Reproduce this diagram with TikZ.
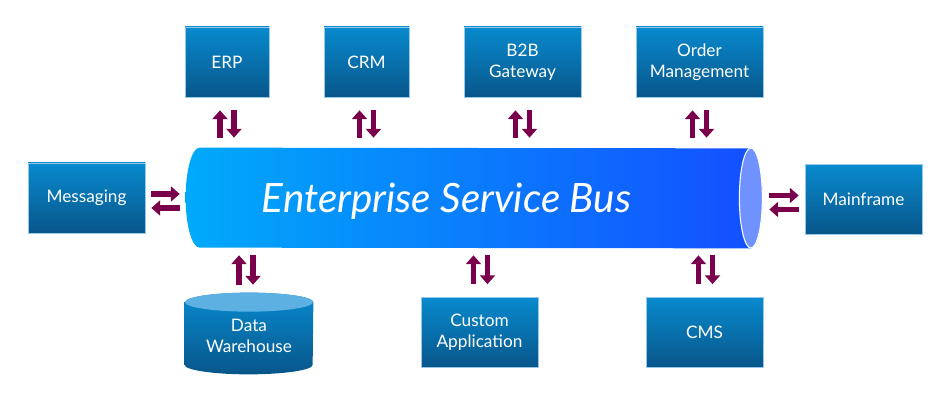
\documentclass[tikz,border=0pt]{standalone}
\usepackage{fontspec}
\setmainfont{Lato}
\usepackage{tikz}
\usetikzlibrary{arrows.meta,calc,positioning}
\definecolor{boxtop}{RGB}{8,138,206}
\definecolor{boxbot}{RGB}{8,86,138}
\definecolor{boxedge}{RGB}{150,200,235}
\definecolor{dwtop}{RGB}{92,176,226}
\definecolor{buscyan}{RGB}{0,170,250}
\definecolor{busblue}{RGB}{20,78,255}
\definecolor{busend}{RGB}{112,146,255}
\definecolor{flowred}{RGB}{122,0,76}

\begin{document}
\begin{tikzpicture}[
  font=\fontsize{9.8}{12}\selectfont,
  sysbox/.style={draw=boxedge, line width=0.4pt, top color=boxtop, bottom color=boxbot, text=white, align=center, minimum height=1.4cm, inner sep=0pt},
  flow/.style={draw=flowred, line width=3.4pt, -{Triangle[length=5pt, width=8.5pt]}},
  busarea/.style={minimum width=11.52cm, minimum height=2cm, inner sep=0pt}
]
\useasboundingbox (0,0) rectangle (19,8);

% systems around the bus
\node[sysbox, minimum width=1.68cm] (erp) at (4.54,6.76) {ERP};
\node[sysbox, minimum width=1.70cm] (crm) at (7.33,6.76) {CRM};
\node[sysbox, minimum width=2.34cm] (b2b) at (10.45,6.76) {B2B\\Gateway};
\node[sysbox, minimum width=2.54cm] (om) at (13.99,6.76) {Order\\Management};
\node[sysbox, minimum width=2.34cm] (msg) at (1.73,4.04) {Messaging};
\node[sysbox, minimum width=2.34cm] (mf) at (17.27,4.01) {Mainframe};
\node[sysbox, minimum width=2.34cm] (app) at (9.59,1.35) {Custom\\Application};
\node[sysbox, minimum width=2.34cm] (cms) at (14.09,1.35) {CMS};

% data warehouse cylinder
\node[text=white, align=center, minimum width=2.56cm, minimum height=1.62cm, inner sep=0pt] (dw) at (4.98,1.33) {};
\shade[top color=boxtop, bottom color=boxbot]
  ([yshift=-0.19cm]dw.north west) -- ([yshift=0.19cm]dw.south west)
  arc[start angle=180, end angle=360, x radius=1.28cm, y radius=0.19cm]
  -- ([yshift=-0.19cm]dw.north east)
  arc[start angle=0, end angle=180, x radius=1.28cm, y radius=0.19cm] -- cycle;
\fill[dwtop] ([yshift=-0.19cm]dw.north) ellipse[x radius=1.28cm, y radius=0.19cm];
\node[text=white, align=center] at ([yshift=-0.05cm]dw.center) {Data\\Warehouse};

% the bus
\node[busarea] (bus) at (9.48,4.04) {};
\shade[left color=buscyan, right color=busblue]
  ([xshift=0.28cm]bus.north west)
  arc[start angle=90, end angle=270, x radius=0.28cm, y radius=1cm]
  -- ([xshift=-0.23cm]bus.south east)
  arc[start angle=-90, end angle=90, x radius=0.23cm, y radius=1cm] -- cycle;
\filldraw[fill=busend, draw=white, line width=0.6pt] ([xshift=-0.23cm]bus.east) ellipse[x radius=0.23cm, y radius=1cm];
\node[text=white, font=\fontsize{23}{27}\selectfont\itshape] (esb) at ([xshift=-0.55cm, yshift=-0.06cm]bus.center) {Enterprise Service Bus};

% top row
\draw[flow, shorten <=0.2cm, shorten >=0.26cm] ([xshift=-0.14cm]erp.south |- bus.north) -- ([xshift=-0.14cm]erp.south);
\draw[flow, shorten <=0.26cm, shorten >=0.2cm] ([xshift=0.14cm]erp.south) -- ([xshift=0.14cm]erp.south |- bus.north);
\draw[flow, shorten <=0.2cm, shorten >=0.26cm] ([xshift=-0.14cm]crm.south |- bus.north) -- ([xshift=-0.14cm]crm.south);
\draw[flow, shorten <=0.26cm, shorten >=0.2cm] ([xshift=0.14cm]crm.south) -- ([xshift=0.14cm]crm.south |- bus.north);
\draw[flow, shorten <=0.2cm, shorten >=0.26cm] ([xshift=-0.14cm]b2b.south |- bus.north) -- ([xshift=-0.14cm]b2b.south);
\draw[flow, shorten <=0.26cm, shorten >=0.2cm] ([xshift=0.14cm]b2b.south) -- ([xshift=0.14cm]b2b.south |- bus.north);
\draw[flow, shorten <=0.2cm, shorten >=0.26cm] ([xshift=-0.14cm]om.south |- bus.north) -- ([xshift=-0.14cm]om.south);
\draw[flow, shorten <=0.26cm, shorten >=0.2cm] ([xshift=0.14cm]om.south) -- ([xshift=0.14cm]om.south |- bus.north);

% left and right
\draw[flow, shorten <=0.12cm, shorten >=0.12cm] ([yshift=0.08cm]msg.east) -- ([yshift=0.08cm]msg.east -| bus.west);
\draw[flow, shorten <=0.12cm, shorten >=0.12cm] ([yshift=-0.2cm]msg.east -| bus.west) -- ([yshift=-0.2cm]msg.east);
\draw[flow, shorten <=0.14cm, shorten >=0.12cm] ([yshift=0.08cm]mf.west -| bus.east) -- ([yshift=0.08cm]mf.west);
\draw[flow, shorten <=0.12cm, shorten >=0.14cm] ([yshift=-0.2cm]mf.west) -- ([yshift=-0.2cm]mf.west -| bus.east);

% bottom row
\draw[flow, shorten <=0.16cm, shorten >=0.14cm] ([xshift=-0.2cm]dw.north) -- ([xshift=-0.2cm]dw.north |- bus.south);
\draw[flow, shorten <=0.14cm, shorten >=0.16cm] ([xshift=0.08cm]dw.north |- bus.south) -- ([xshift=0.08cm]dw.north);
\draw[flow, shorten <=0.26cm, shorten >=0.14cm] ([xshift=-0.12cm]app.north) -- ([xshift=-0.12cm]app.north |- bus.south);
\draw[flow, shorten <=0.14cm, shorten >=0.26cm] ([xshift=0.16cm]app.north |- bus.south) -- ([xshift=0.16cm]app.north);
\draw[flow, shorten <=0.26cm, shorten >=0.14cm] ([xshift=-0.12cm]cms.north) -- ([xshift=-0.12cm]cms.north |- bus.south);
\draw[flow, shorten <=0.14cm, shorten >=0.26cm] ([xshift=0.16cm]cms.north |- bus.south) -- ([xshift=0.16cm]cms.north);
\end{tikzpicture}
\end{document}
